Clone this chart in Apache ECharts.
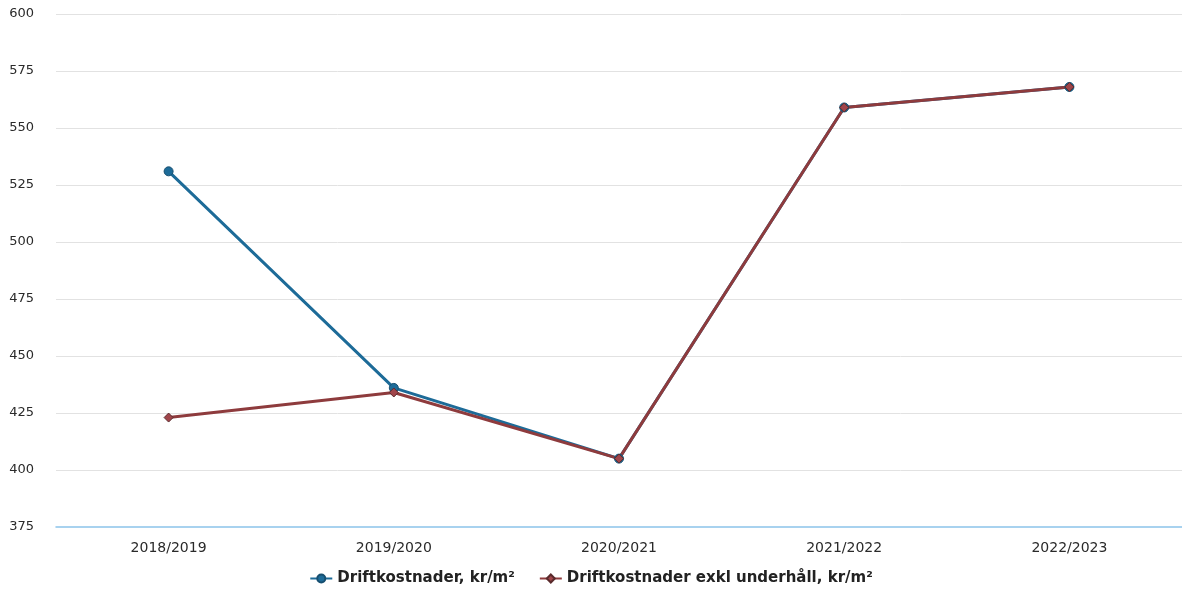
<!DOCTYPE html>
<html><head><meta charset="utf-8">
<script src="https://cdn.jsdelivr.net/npm/echarts@6/dist/echarts.min.js"></script>
<style>html,body{margin:0;padding:0;background:#fff}#c{width:1182px;height:597px}</style>
</head><body><div id="c"></div>
<script>
const categories = ['2018/2019','2019/2020','2020/2021','2021/2022','2022/2023'];
const drift = [531, 436, 405, 559, 568];
const driftExkl = [423, 434, 405, 559, 568];
const seriesNames = ['Driftkostnader, kr/m²','Driftkostnader exkl underhåll, kr/m²'];
const chart = echarts.init(document.getElementById('c'));
chart.setOption({
  animation:false,
  textStyle:{fontFamily:'DejaVu Sans'},
  grid:{left:56,right:0,top:14,bottom:70,containLabel:false},
  legend:{bottom:6,left:'center',itemWidth:22,itemHeight:10,itemGap:24,
    textStyle:{fontSize:15,fontWeight:'bold',color:'#222',fontFamily:'DejaVu Sans'},
    data:seriesNames},
  xAxis:{type:'category',data:categories,boundaryGap:true,z:10,
    axisLine:{show:true,onZero:false,lineStyle:{color:'#8cc4ea',width:1.5}},axisTick:{show:false},
    axisLabel:{fontSize:14,color:'#2a2a2a',margin:14}},
  yAxis:{type:'value',min:375,max:600,interval:25,
    axisLine:{show:false},axisTick:{show:false},
    axisLabel:{fontSize:13,color:'#2a2a2a',margin:22},
    splitLine:{showMinLine:false,lineStyle:{color:'#e2e2e2',width:1}}},
  series:[
    {name:seriesNames[0],type:'line',data:drift,symbol:'circle',symbolSize:9,
     lineStyle:{color:'#1d6b98',width:3},
     itemStyle:{color:'#1d6b98',borderColor:'#174f70',borderWidth:1}},
    {name:seriesNames[1],type:'line',data:driftExkl,symbol:'diamond',symbolSize:9,
     lineStyle:{color:'#8e3b3d',width:3},
     itemStyle:{color:'#a0454a',borderColor:'#5a2a2c',borderWidth:1}}
  ]
});
</script></body></html>
